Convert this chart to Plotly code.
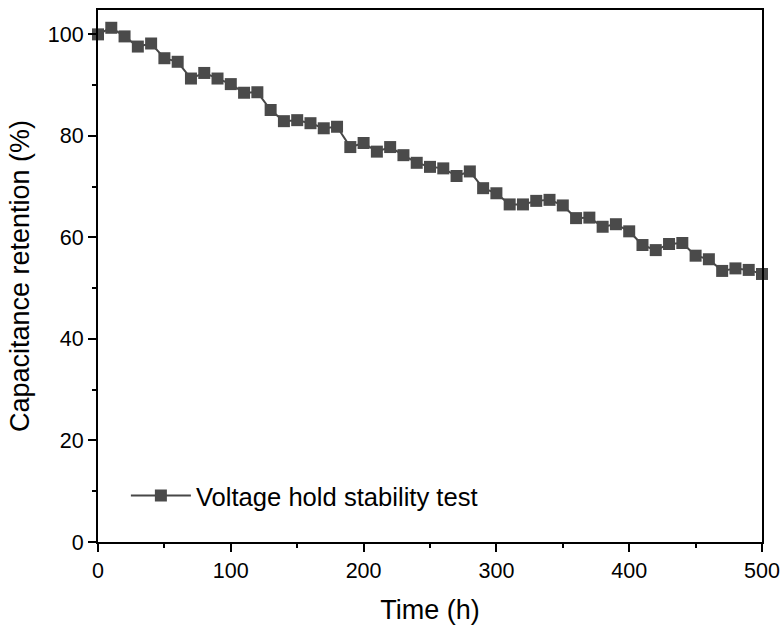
import plotly.graph_objects as go

time_h = list(range(0, 510, 10))
retention = [100.0, 101.3, 99.6, 97.6, 98.2, 95.3, 94.6, 91.3, 92.4, 91.3,
             90.2, 88.5, 88.6, 85.1, 82.9, 83.1, 82.5, 81.5, 81.8, 77.8,
             78.6, 76.9, 77.8, 76.2, 74.7, 73.9, 73.6, 72.1, 73.0, 69.7,
             68.7, 66.5, 66.5, 67.2, 67.4, 66.3, 63.8, 63.9, 62.1, 62.6,
             61.2, 58.5, 57.5, 58.7, 58.9, 56.4, 55.7, 53.4, 53.9, 53.6,
             52.8]
series_name = "Voltage hold stability test"
x_ticks = [0, 100, 200, 300, 400, 500]
y_ticks = [0, 20, 40, 60, 80, 100]
x_minor = [50, 150, 250, 350, 450]
y_minor = [10, 30, 50, 70, 90]

FONT = "Liberation Sans, Arial, sans-serif"

fig = go.Figure()
fig.add_trace(go.Scatter(
    x=time_h, y=retention, name=series_name, mode="lines+markers",
    line=dict(color="#474747", width=2),
    marker=dict(symbol="square", size=12, color="#4a4a4a"),
    cliponaxis=False,
))

axis_common = dict(
    showline=True, linecolor="black", linewidth=2, mirror=True,
    ticks="outside", ticklen=8, tickwidth=2, tickcolor="black",
    showgrid=False, zeroline=False, automargin=False,
    tickfont=dict(family=FONT, size=21.5, color="black"),
)

fig.update_layout(
    width=781, height=628,
    margin=dict(l=98, r=19, t=10, b=86),
    plot_bgcolor="white", paper_bgcolor="white",
    font=dict(family=FONT, color="black"),
    showlegend=True,
    legend=dict(x=0.042, y=0.0865, xanchor="left", yanchor="middle",
                bgcolor="rgba(0,0,0,0)",
                font=dict(size=25.6, family=FONT, color="black"),
                itemwidth=60),
)
fig.update_xaxes(range=[0, 500], tickvals=x_ticks, **axis_common,
                 minor=dict(tickvals=x_minor, ticks="outside", ticklen=4,
                            tickwidth=2, tickcolor="black"),
                 title=dict(text="Time (h)", font=dict(size=27, family=FONT), standoff=18))
fig.update_yaxes(range=[0, 104.8], tickvals=y_ticks, **axis_common,
                 minor=dict(tickvals=y_minor, ticks="outside", ticklen=4,
                            tickwidth=2, tickcolor="black"),
                 title=dict(text="Capacitance retention (%)", font=dict(size=27, family=FONT), standoff=10))

fig.write_html("out.html")
